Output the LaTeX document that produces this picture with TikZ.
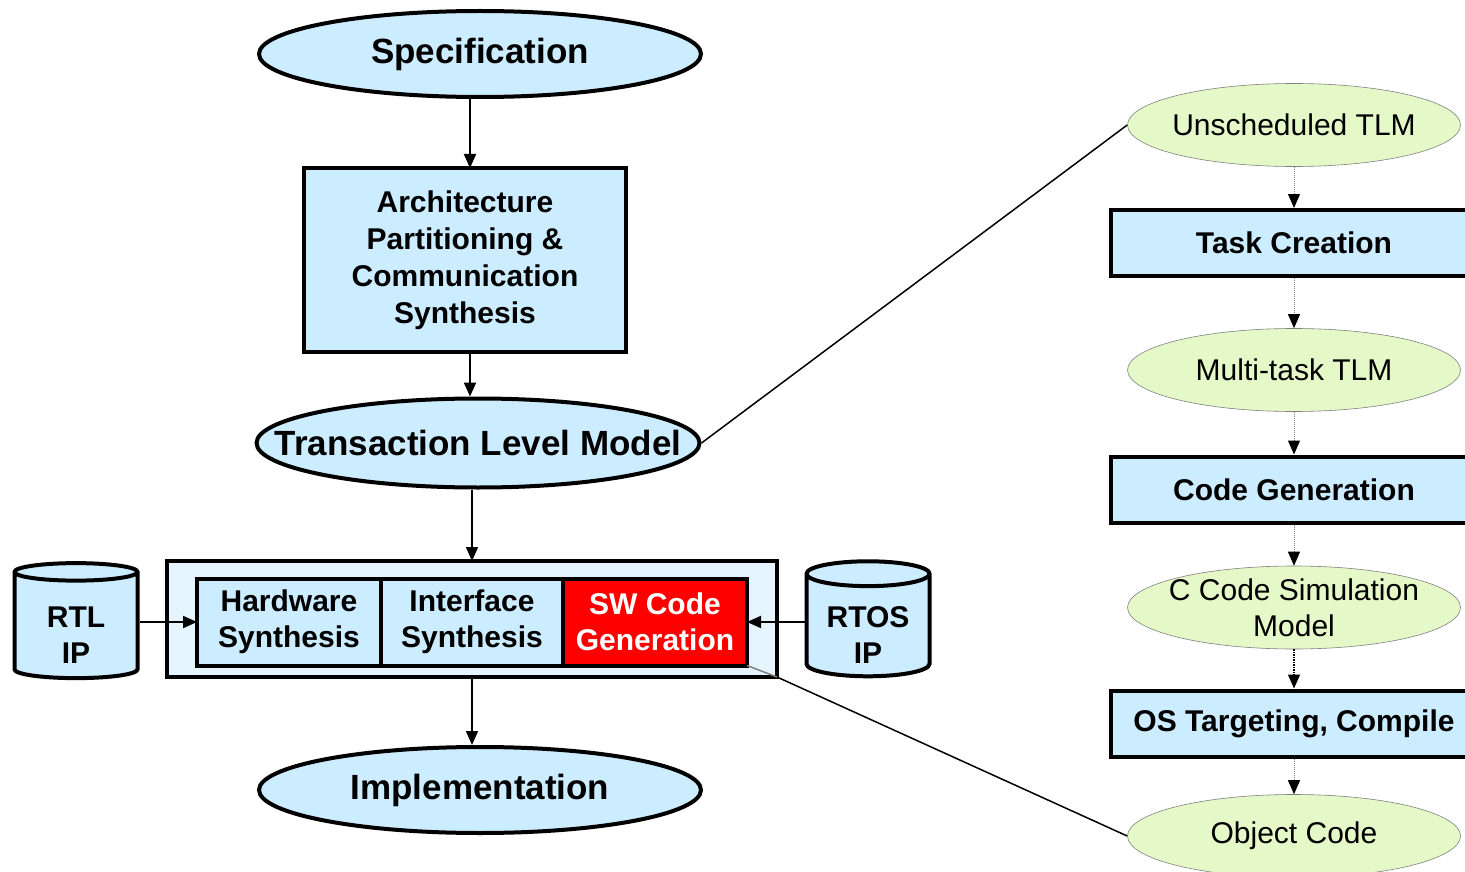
\documentclass[tikz,border=0pt]{standalone}
\usepackage{fontspec}
\setmainfont{Liberation Sans}
\usetikzlibrary{arrows.meta,positioning,shapes.geometric}
\definecolor{specblue}{RGB}{204,236,255}
\definecolor{paleblue}{RGB}{230,244,255}
\definecolor{tlmgreen}{RGB}{228,248,200}

\begin{document}
\begin{tikzpicture}[
  x=1pt, y=-1pt,
  every node/.style={align=center, font=\fontsize{30}{36}\selectfont\bfseries},
  bigell/.style={ellipse, draw, line width=4pt, fill=specblue, minimum width=442pt, minimum height=86pt, inner xsep=-60pt, inner ysep=0pt, font=\fontsize{35}{40}\selectfont\bfseries},
  box/.style={rectangle, draw, line width=4pt, fill=specblue, inner sep=0pt, outer sep=0pt},
  ip/.style={cylinder, shape border rotate=90, aspect=0.3, draw, line width=4pt, fill=specblue, minimum width=123pt, minimum height=115pt, inner sep=0pt},
  model/.style={ellipse, draw=gray, line width=0.6pt, fill=tlmgreen, minimum width=333pt, minimum height=83pt, inner xsep=-40pt, inner ysep=0pt, font=\fontsize{30}{36}\selectfont},
  stepbox/.style={rectangle, draw, line width=4pt, fill=specblue, minimum width=366pt, minimum height=66pt, inner sep=0pt},
  arrow/.style={-{Triangle[length=14pt,width=12pt]}, line width=2pt},
  flow/.style={-{Triangle[length=14pt,width=12pt,color=black]}, gray, densely dotted, line width=1pt}
]
\useasboundingbox (0,0) rectangle (1465,872);
\clip (0,0) rectangle (1465,872);

% Left flow
\node[bigell] (spec) at (480,54) {Specification};
\node[box, minimum width=322pt, minimum height=184pt, font=\fontsize{30}{37}\selectfont\bfseries] (arch) at (465,260)
  {Architecture\\Partitioning \&\\Communication\\Synthesis};
\node[bigell, minimum width=443pt, minimum height=89pt] (tlm) at (478,443) {Transaction Level Model};

% Synthesis block
\node[box, fill=paleblue, minimum width=610pt, minimum height=116pt] (outer) at (472,619) {};
\node[box, minimum width=184pt, minimum height=87pt] (hw) at (289,622) {Hardware\\Synthesis};
\node[box, minimum width=182pt, minimum height=87pt, right=0pt of hw] (ifs) {Interface\\Synthesis};
\node[box, fill=red, text=white, minimum width=184pt, minimum height=87pt, right=0pt of ifs] (sw) {SW Code\\Generation};

\node[ip] (rtl) at (76,626) {\mbox{}\\[2pt]RTL\\IP};
\node[ip] (rtos) at (868,626) {\mbox{}\\[2pt]RTOS\\IP};

\node[bigell] (impl) at (480,790) {Implementation};

% Right flow
\node[model] (unsch) at (1294,125) {Unscheduled TLM};
\node[stepbox] (task) at (1294,243) {Task Creation};
\node[model] (multi) at (1294,370) {Multi-task TLM};
\node[stepbox] (codegen) at (1294,489.5) {Code Generation};
\node[model] (csim) at (1294,607.5) {C Code Simulation\\Model};
\node[stepbox] (ostarget) at (1294,723.5) {OS Targeting, Compile};
\node[model] (obj) at (1294,836) {Object Code};

% Arrows
\draw[arrow] ([xshift=5pt]spec.south -| arch.north) -- ([xshift=5pt]arch.north);
\draw[arrow] ([xshift=5pt]arch.south) -- ([xshift=5pt]arch.south |- tlm.north);
\draw[arrow] (outer.north |- tlm.south) -- (outer.north);
\draw[arrow] (outer.south) -- (outer.south |- impl.north);
\draw[arrow] (rtl.east |- hw.west) -- (hw.west);
\draw[arrow] (rtos.west |- sw.east) -- (sw.east);

\draw[flow] (unsch.south) -- (task.north);
\draw[flow] (task.south) -- (multi.north);
\draw[flow] (multi.south) -- (codegen.north);
\draw[flow] (codegen.south) -- (csim.north);
\draw[flow, black, line width=1.5pt] (csim.south) -- (ostarget.north);
\draw[flow] (ostarget.south) -- (obj.north);

% Zoom lines
\draw[line width=1.5pt] (tlm.east) -- (unsch.west);
\draw[gray, line width=1.5pt] (sw.south east) -- (outer.south east);
\draw[line width=1.5pt] (outer.south east) -- (obj.west);

\end{tikzpicture}
\end{document}
